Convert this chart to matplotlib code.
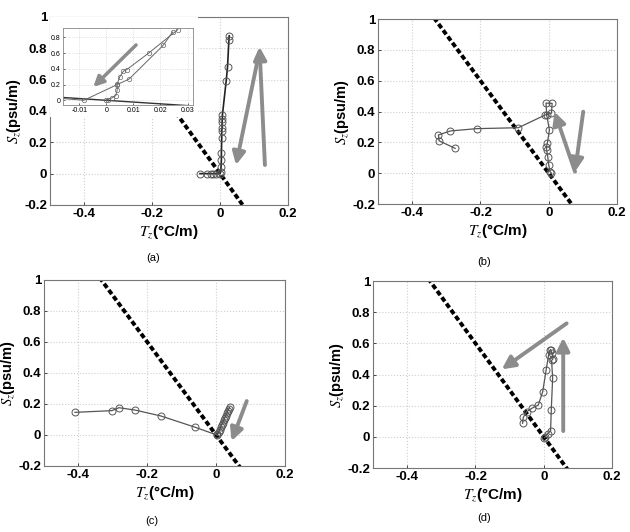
import numpy as np
import matplotlib
matplotlib.use("Agg")
from matplotlib import pyplot as plt
from matplotlib.patches import Rectangle

plt.rcParams['font.family'] = ['Liberation Sans', 'DejaVu Sans']
plt.rcParams['mathtext.fontset'] = 'stix'
plt.rcParams['axes.unicode_minus'] = False

# slope of the dashed reference line, Sz = slope * Tz
slope = -3.0

# panel (a), main axes
a_t = [0.027, 0.026, 0.022, 0.018, 0.007, 0.007, 0.006, 0.006, 0.005, 0.005,
       0.004, 0.004, 0.003, 0.002, 0.0, -0.012, -0.02, -0.027, -0.039, -0.059]
a_s = [0.88, 0.85, 0.68, 0.59, 0.375, 0.35, 0.33, 0.29, 0.27, 0.226,
       0.13, 0.087, 0.045, 0.013, 0.0, 0.0, 0.0, 0.0, 0.0, 0.0]

# panel (a), inset: two profiles
ins1_t = [0.0264, 0.0156, 0.0075, 0.0063, 0.005, 0.004, 0.004, 0.0035, 0.002, 0.0005, 0.0]
ins1_s = [0.90, 0.60, 0.39, 0.37, 0.30, 0.21, 0.13, 0.06, 0.03, 0.01, 0.0]
ins2_t = [0.0245, 0.021, 0.0084, 0.004, -0.0083, -0.017]
ins2_s = [0.87, 0.70, 0.27, 0.20, 0.0, 0.025]

# panel (b)
b_t = [-0.274, -0.321, -0.323, -0.288, -0.211, -0.089, -0.011, 0.008, 0.010, -0.008,
       -0.006, 0.002, -0.004, -0.007, -0.006, -0.003, 0.0, 0.004, 0.008]
b_s = [0.161, 0.21, 0.248, 0.274, 0.289, 0.295, 0.377, 0.39, 0.453, 0.455,
       0.38, 0.28, 0.194, 0.17, 0.15, 0.107, 0.053, 0.01, 0.0]

# panel (c)
c_t = [-0.41, -0.303, -0.282, -0.236, -0.161, -0.061, 0.002]
c_s = [0.146, 0.157, 0.176, 0.161, 0.123, 0.05, 0.0]
c2_t = [0.004, 0.007, 0.010, 0.013, 0.016, 0.019, 0.022, 0.025, 0.028, 0.031, 0.034, 0.037, 0.039]
c2_s = [0.005, 0.02, 0.035, 0.05, 0.065, 0.08, 0.095, 0.11, 0.125, 0.14, 0.155, 0.168, 0.178]

# panel (d)
d_t = [-0.062, -0.06, -0.05, -0.035, -0.016, -0.003, 0.007, 0.014, 0.018, 0.020,
       0.024, 0.027, 0.023, 0.026, 0.022, 0.020, 0.011, 0.004, 0.002]
d_s = [0.087, 0.125, 0.161, 0.183, 0.204, 0.29, 0.43, 0.523, 0.555, 0.56,
       0.54, 0.50, 0.49, 0.375, 0.172, 0.037, 0.02, 0.0, -0.005]

xticks = [-0.4, -0.2, 0, 0.2]
xlabels = ['-0.4', '-0.2', '0', '0.2']
yticks = [-0.2, 0, 0.2, 0.4, 0.6, 0.8, 1]
ylabels = ['-0.2', '0', '0.2', '0.4', '0.6', '0.8', '1']

arrow_gray = '#8c8c8c'
line_gray = '#555555'

fig = plt.figure(figsize=(6.3, 5.32), dpi=100)


def setup(ax):
    ax.set_xlim(-0.5, 0.2)
    ax.set_ylim(-0.2, 1)
    ax.set_xticks(xticks)
    ax.set_xticklabels(xlabels, fontsize=9.5, fontweight='bold')
    ax.set_yticks(yticks)
    ax.set_yticklabels(ylabels, fontsize=9.5, fontweight='bold')
    ax.grid(True, color='#cfcfcf', linestyle=':', linewidth=0.8)
    ax.tick_params(length=2, width=0.5, direction='in', pad=2)
    for sp in ax.spines.values():
        sp.set_color('#777777')
        sp.set_linewidth(0.8)
    ax.set_xlabel(r'$T_z$' + '(°C/m)', fontsize=11, fontweight='bold', labelpad=3)
    ax.set_ylabel(r'$S_z$' + '(psu/m)', fontsize=10.5, fontweight='bold', labelpad=1)
    tt = np.array([-0.5, 0.2])
    ax.plot(tt, slope * tt, color='black', lw=2.8, linestyle=(0, (1.3, 0.7)), zorder=2)


def arrow(ax, tail, head):
    ax.annotate('', xy=head, xytext=tail,
                arrowprops=dict(arrowstyle='-|>', color=arrow_gray, lw=2.8,
                                mutation_scale=19, shrinkA=0, shrinkB=0), zorder=5)


def profile(ax, t, s, ms=5, lw=0.9, color=line_gray):
    ax.plot(t, s, color=color, lw=lw, marker='o', markersize=ms,
            markerfacecolor='none', markeredgecolor='#555555', markeredgewidth=0.7, zorder=3)


# (a)
ax_a = fig.add_axes([0.0794, 0.6147, 0.3778, 0.3534])
setup(ax_a)
profile(ax_a, a_t, a_s, color='#222222', lw=1.2)
ax_a.add_patch(Rectangle((0, 0.468), 0.62, 0.532, transform=ax_a.transAxes,
                         facecolor='white', edgecolor='none', zorder=4))
arrow(ax_a, (0.132, 0.055), (0.116, 0.81))
arrow(ax_a, (0.112, 0.74), (0.047, 0.055))

ins = fig.add_axes([0.1, 0.8026, 0.2063, 0.1447])
ins.set_xlim(-0.016, 0.032)
ins.set_ylim(-0.06, 0.92)
ins.set_xticks([-0.01, 0, 0.01, 0.02, 0.03])
ins.set_xticklabels(['-0.01', '0', '0.01', '0.02', '0.03'], fontsize=5)
ins.set_yticks([0, 0.2, 0.4, 0.6, 0.8])
ins.set_yticklabels(['0', '0.2', '0.4', '0.6', '0.8'], fontsize=5)
ins.tick_params(length=1.5, width=0.4, direction='in', pad=1.5)
ins.grid(True, color='#d5d5d5', linestyle=':', linewidth=0.6)
for sp in ins.spines.values():
    sp.set_color('#888888')
    sp.set_linewidth(0.6)
ti = np.array([-0.02, 0.04])
ins.plot(ti, slope * ti * 0.75, color='#333333', lw=1.0, zorder=2)
for t, s in [(ins1_t, ins1_s), (ins2_t, ins2_s)]:
    ins.plot(t, s, color='#666666', lw=0.7, marker='o', markersize=3.2,
             markerfacecolor='none', markeredgecolor='#666666', markeredgewidth=0.5)
ins.annotate('', xy=(-0.0048, 0.17), xytext=(0.011, 0.705),
             arrowprops=dict(arrowstyle='-|>', color=arrow_gray, lw=2.5,
                             mutation_scale=15, shrinkA=0, shrinkB=0))

# (b)
ax_b = fig.add_axes([0.6, 0.6165, 0.3794, 0.3477])
setup(ax_b)
profile(ax_b, b_t, b_s)
arrow(ax_b, (0.077, 0.01), (0.017, 0.399))
arrow(ax_b, (0.101, 0.399), (0.077, 0.01))

# (c)
ax_c = fig.add_axes([0.0698, 0.1241, 0.3825, 0.3496])
setup(ax_c)
profile(ax_c, c_t, c_s)
profile(ax_c, c2_t, c2_s, color='#444444')
arrow(ax_c, (0.089, 0.219), (0.045, -0.039))

# (d)
ax_d = fig.add_axes([0.5921, 0.1203, 0.3794, 0.3515])
setup(ax_d)
profile(ax_d, d_t, d_s)
arrow(ax_d, (0.067, 0.728), (-0.123, 0.433))
arrow(ax_d, (0.057, 0.037), (0.057, 0.636))

for lab, x, y in [('(a)', 153, 258), ('(b)', 484, 262), ('(c)', 152, 521), ('(d)', 484, 518)]:
    fig.text(x / 630, 1 - y / 532, lab, ha='center', va='center', fontsize=8)

fig.savefig('out.png', dpi=100, facecolor='white')
